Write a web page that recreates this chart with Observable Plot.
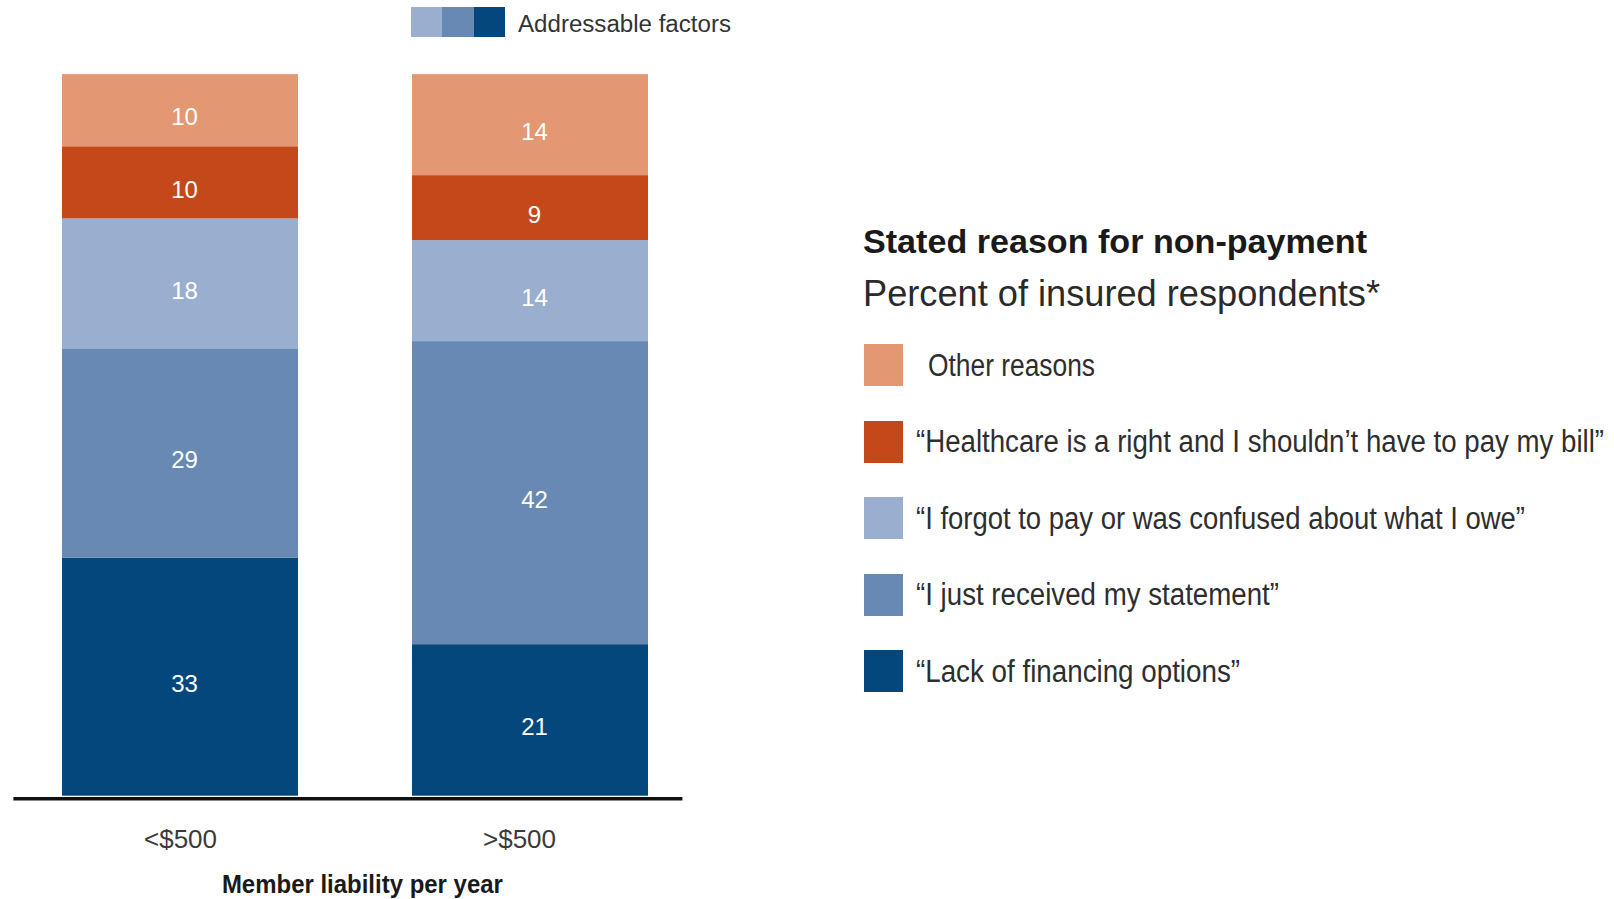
<!DOCTYPE html>
<html>
<head>
<meta charset="utf-8">
<script src="https://cdn.jsdelivr.net/npm/d3@7"></script>
<script src="https://cdn.jsdelivr.net/npm/@observablehq/plot@0.6"></script>
<style>
  html, body { margin: 0; padding: 0; background: #fff; }
  body { width: 1614px; height: 899px; position: relative; overflow: hidden;
         font-family: "Liberation Sans", Arial, sans-serif; color: #2a2a2a; }
  #chart { position: absolute; left: 0; top: 0; }
  .abs { position: absolute; white-space: nowrap; line-height: 1; }
  .fit { display: inline-block; transform-origin: 0 50%; white-space: nowrap; line-height: 1; }
  #toplegend { left: 411px; top: 7px; display: flex; align-items: center; }
  #toplegend .sw { width: 31.4px; height: 30px; }
  #toplegend .lbl { position: absolute; left: 107px; top: 6px; font-size: 23px; color: #333; }
  #title { left: 862.5px; top: 224px; font-size: 34px; font-weight: bold; color: #1a1a1a; }
  #subtitle { left: 862.5px; top: 276px; font-size: 36px; color: #2a2a2a; }
  #legend { left: 864px; top: 327px; }
  .row { height: 76.5px; display: flex; align-items: center; position: relative; }
  .row .sw { width: 39px; height: 42px; flex: none; }
  .row .lbl { position: absolute; left: 52px; font-size: 31px; color: #2e2e2e; }
</style>
</head>
<body>
<div id="chart"></div>
<div id="toplegend" class="abs"></div>
<div id="title" class="abs fit">Stated reason for non-payment</div>
<div id="subtitle" class="abs fit">Percent of insured respondents*</div>
<div id="legend" class="abs"></div>
<script>
const categories = ["<$500", ">$500"];
const reasons = [
  "“Lack of financing options”",
  "“I just received my statement”",
  "“I forgot to pay or was confused about what I owe”",
  "“Healthcare is a right and I shouldn’t have to pay my bill”",
  "Other reasons"
];
const under500 = [33, 29, 18, 10, 10];
const over500 = [21, 42, 14, 9, 14];
const colors = ["#03477d", "#6889b4", "#9aafcf", "#c5481a", "#e39873"];
const addressable = ["#9aafcf", "#6889b4", "#03477d"];
const axisTitle = "Member liability per year";
const addressableLabel = "Addressable factors";

const seriesByCategory = [under500, over500];
const data = [];
categories.forEach((c, ci) => {
  reasons.forEach((r, ri) => data.push({category: c, reason: r, value: seriesByCategory[ci][ri]}));
});

const W = 700, H = 899;
const chart = Plot.plot({
  width: W,
  height: H,
  marginLeft: 13.4,
  marginRight: W - 682.4,
  marginTop: 74.1,
  marginBottom: H - 795.7,
  style: {background: "transparent", overflow: "visible"},
  x: {type: "band", domain: categories, paddingInner: 0.326, paddingOuter: 0.1187, align: 0.582, axis: null},
  y: {domain: [0, 100], axis: null},
  color: {domain: reasons, range: colors},
  marks: [
    Plot.barY(data, Plot.stackY({x: "category", y: "value", fill: "reason", order: null})),
    Plot.text(data, Plot.stackY({x: "category", y: "value", z: "reason", text: d => String(d.value),
      fill: "white", fontSize: 24, fontFamily: "Liberation Sans, Arial, sans-serif", dy: 7, dx: 4})),
    Plot.ruleY([0], {stroke: "#111", strokeWidth: 3.5, dy: 2.6}),
    Plot.text([categories[0]], {x: d => d, frameAnchor: "bottom", dy: 51.5, fontSize: 26,
      fontFamily: "Liberation Sans, Arial, sans-serif", fill: "#3a3a3a"}),
    Plot.text([categories[1]], {x: d => d, frameAnchor: "bottom", dy: 51.5, dx: -11, fontSize: 26,
      fontFamily: "Liberation Sans, Arial, sans-serif", fill: "#3a3a3a"}),
    Plot.text([axisTitle], {frameAnchor: "bottom", dy: 97, dx: 14, fontSize: 25, fontWeight: "bold",
      fontFamily: "Liberation Sans, Arial, sans-serif", fill: "#1a1a1a"})
  ]
});
document.getElementById("chart").appendChild(chart);
// condense the bold axis title like a narrow face
d3.select(chart).selectAll("text").filter(function() { return this.textContent === axisTitle; })
  .attr("textLength", 281).attr("lengthAdjust", "spacingAndGlyphs");

const topLeg = document.getElementById("toplegend");
addressable.forEach(c => {
  const s = document.createElement("div");
  s.className = "sw"; s.style.background = c;
  topLeg.appendChild(s);
});
const tl = document.createElement("div");
tl.className = "lbl fit"; tl.textContent = addressableLabel;
topLeg.appendChild(tl);

const leg = document.getElementById("legend");
const itemEls = [];
reasons.slice().reverse().forEach(r => {
  const row = document.createElement("div");
  row.className = "row";
  const s = document.createElement("div");
  s.className = "sw"; s.style.background = colors[reasons.indexOf(r)];
  const l = document.createElement("div");
  l.className = "lbl fit"; l.textContent = r;
  if (!r.startsWith("“")) l.style.left = "64px";
  row.appendChild(s); row.appendChild(l);
  leg.appendChild(row);
  itemEls.push(l);
});

// narrow-face emulation: squeeze each text horizontally to the width it has in the picture
function squeeze(el, target) {
  const w = el.getBoundingClientRect().width;
  if (w > 0) el.style.transform = `scaleX(${target / w})`;
}
squeeze(document.getElementById("title"), 504);
squeeze(document.getElementById("subtitle"), 517);
squeeze(tl, 213);
[167, 688, 609, 363, 324].forEach((t, i) => squeeze(itemEls[i], t));
</script>
</body>
</html>
